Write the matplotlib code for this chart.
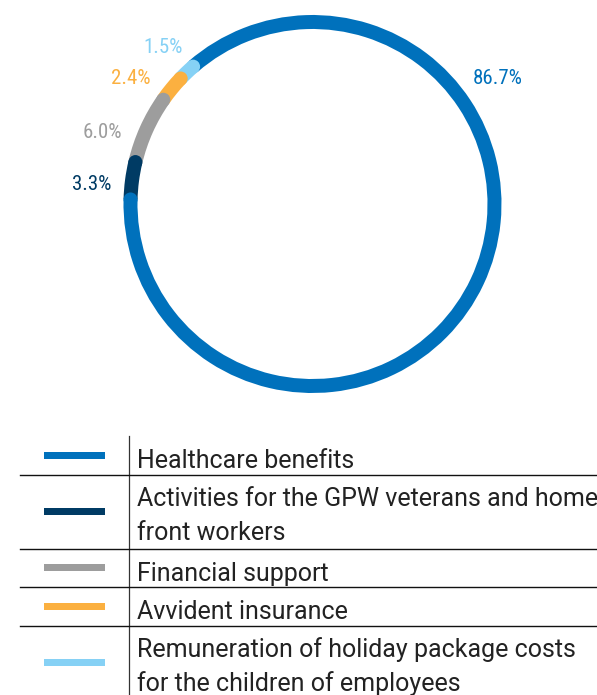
import numpy as np
import matplotlib.pyplot as plt
from matplotlib.patches import Wedge, Circle, Rectangle

# social spending structure, %
categories = ["Healthcare benefits",
              "Activities for the GPW veterans and home\nfront workers",
              "Financial support",
              "Avvident insurance",
              "Remuneration of holiday package costs\nfor the children of employees"]
shares = [86.7, 3.3, 6.0, 2.4, 1.5]
value_labels = ["86.7%", "3.3%", "6.0%", "2.4%", "1.5%"]
colors = ["#0071bc", "#003b64", "#9d9d9d", "#fbb040", "#86d1f5"]

# where each value label sits (polar angle, distance from centre, alignment)
label_angles = [34.2, 174.6, 159.5, 142.2, 129.7]
label_radii = [224, 202, 203, 205, 203]
label_ha = ["center", "right", "right", "right", "right"]

W, H = 597, 695
fig = plt.figure(figsize=(W / 100, H / 100), dpi=100)
ax = fig.add_axes([0, 0, 1, 1])
ax.set_xlim(0, W)
ax.set_ylim(0, H)
ax.axis("off")

label_font = ["Roboto Condensed", "Liberation Sans Narrow", "Roboto", "DejaVu Sans"]
text_font = ["Roboto", "DejaVu Sans"]

# ring
cx, cy = 312.5, H - 204
r_out, ring_w = 189, 14
r_mid = r_out - ring_w / 2
start = 131.0

total = sum(shares)
ends = []
a = start
for share, col in zip(shares, colors):
    span = share / total * 360
    ax.add_patch(Wedge((cx, cy), r_out, a - span, a, width=ring_w,
                       facecolor=col, edgecolor="none", zorder=2))
    a -= span
    ends.append(a)

# rounded tail of each segment laps over the next one
for end, col in zip(ends, colors):
    t = np.radians(end)
    ax.add_patch(Circle((cx + r_mid * np.cos(t), cy + r_mid * np.sin(t)),
                        ring_w / 2, facecolor=col, edgecolor="none", zorder=3))

for lab, ang, rad, ha, col in zip(value_labels, label_angles, label_radii,
                                  label_ha, colors):
    t = np.radians(ang)
    ax.text(cx + rad * np.cos(t), cy + rad * np.sin(t), lab, color=col,
            fontsize=15, family=label_font, ha=ha, va="center")

# legend table
row_top = H - 436
sep_x0, col_x, text_x = 19.5, 129.3, 137
line_h = 33
ax.plot([col_x, col_x], [row_top, 0], color="#333333", lw=0.9, zorder=1)
y = row_top
for i, (cat, col) in enumerate(zip(categories, colors)):
    lines = cat.split("\n")
    h = 38.5 + 35.5 * (len(lines) - 1)
    ax.add_patch(Rectangle((44, y - h / 2 - 3.5), 61, 7, facecolor=col,
                           edgecolor="none"))
    for j, ln in enumerate(lines):
        ax.text(text_x, y - 32 - j * line_h, ln, fontsize=18,
                family=text_font, color="#222222",
                va="baseline", ha="left")
    y -= h
    if i < len(categories) - 1:
        ax.plot([sep_x0, W], [y, y], color="#111111", lw=1.0, zorder=1)

fig.savefig("out.png", dpi=100)
